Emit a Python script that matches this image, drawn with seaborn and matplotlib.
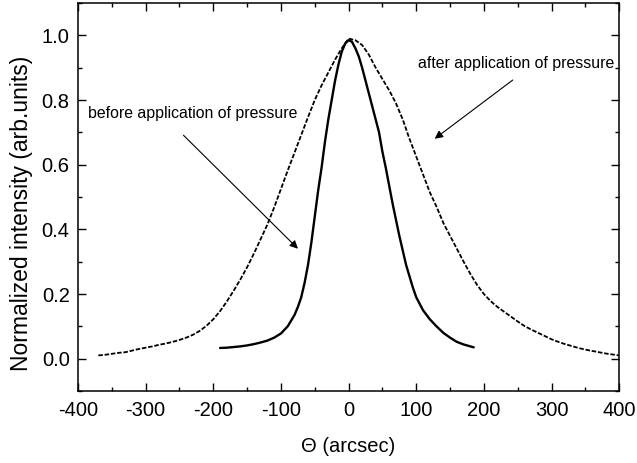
import matplotlib
matplotlib.use("Agg")
import matplotlib.pyplot as plt
import seaborn as sns
import pandas as pd
from matplotlib.ticker import MultipleLocator

# ---- data ----
before_x = [-190, -180, -170, -160, -150, -140, -130, -120, -110, -100, -90, -80, -75, -70, -65,
            -60, -55, -50, -45, -40, -35, -30, -25, -20, -15, -10, -5, 0, 5, 10, 15, 20, 25, 30,
            35, 40, 45, 50, 55, 60, 65, 70, 75, 80, 85, 90, 95, 100, 110, 120, 130, 140, 150,
            160, 170, 180, 185]
before_y = [0.033, 0.034, 0.036, 0.038, 0.041, 0.045, 0.050, 0.056, 0.065, 0.078, 0.100, 0.135,
            0.160, 0.190, 0.235, 0.290, 0.360, 0.440, 0.520, 0.590, 0.670, 0.740, 0.800, 0.860,
            0.910, 0.950, 0.975, 0.985, 0.980, 0.960, 0.935, 0.900, 0.860, 0.820, 0.780, 0.740,
            0.700, 0.640, 0.590, 0.535, 0.480, 0.430, 0.380, 0.335, 0.290, 0.255, 0.220, 0.190,
            0.150, 0.122, 0.100, 0.080, 0.065, 0.052, 0.044, 0.038, 0.035]

after_x = [-370, -360, -350, -340, -330, -320, -310, -300, -290, -280, -270, -260, -250, -240,
           -230, -220, -210, -200, -190, -180, -170, -160, -150, -140, -130, -120, -110, -100,
           -90, -80, -70, -60, -50, -40, -30, -20, -10, 0, 10, 20, 30, 40, 50, 60, 70, 80, 90,
           100, 110, 120, 130, 140, 150, 160, 170, 180, 190, 200, 210, 220, 230, 240, 250, 260,
           270, 280, 290, 300, 310, 320, 330, 340, 350, 360, 370, 380, 390, 400]
after_y = [0.010, 0.012, 0.015, 0.018, 0.020, 0.025, 0.030, 0.034, 0.038, 0.043, 0.047, 0.052,
           0.058, 0.065, 0.074, 0.086, 0.102, 0.122, 0.147, 0.177, 0.210, 0.245, 0.283, 0.325,
           0.370, 0.415, 0.468, 0.525, 0.582, 0.637, 0.692, 0.747, 0.800, 0.845, 0.885, 0.925,
           0.960, 0.990, 0.985, 0.970, 0.940, 0.900, 0.865, 0.830, 0.790, 0.740, 0.680, 0.625,
           0.570, 0.515, 0.470, 0.420, 0.380, 0.340, 0.300, 0.262, 0.228, 0.200, 0.178, 0.160,
           0.145, 0.130, 0.115, 0.101, 0.090, 0.080, 0.070, 0.060, 0.052, 0.045, 0.039, 0.033,
           0.028, 0.024, 0.020, 0.016, 0.013, 0.010]

before_label = "before application of pressure"
after_label = "after application of pressure"

x_ticks = [-400, -300, -200, -100, 0, 100, 200, 300, 400]
y_ticks = [0.0, 0.2, 0.4, 0.6, 0.8, 1.0]

# ---- style ----
sns.set_theme(style="ticks")
plt.rcParams["font.family"] = ["Liberation Sans", "DejaVu Sans"]

fig = plt.figure(figsize=(6.37, 4.63), dpi=100)
ax = fig.add_axes([0.1225, 0.1555, 0.8495, 0.838])

df_before = pd.DataFrame({"x": before_x, "y": before_y})
df_after = pd.DataFrame({"x": after_x, "y": after_y})

sns.lineplot(data=df_after, x="x", y="y", ax=ax, color="black", linewidth=1.3,
             linestyle=(0, (2.5, 1.0)), sort=False)
sns.lineplot(data=df_before, x="x", y="y", ax=ax, color="black", linewidth=1.7,
             sort=False)

ax.set_xlim(-400, 400)
ax.set_ylim(-0.1, 1.1)
ax.set_xticks(x_ticks)
ax.set_yticks(y_ticks)
ax.set_xticklabels([str(v) for v in x_ticks])
ax.set_yticklabels([f"{v:.1f}" for v in y_ticks])
ax.xaxis.set_minor_locator(MultipleLocator(50))
ax.yaxis.set_minor_locator(MultipleLocator(0.1))
ax.tick_params(which="both", direction="in", top=True, right=True, color="black", width=1.0)
ax.tick_params(which="major", length=6, labelsize=14.5, labelcolor="black")
ax.tick_params(which="minor", length=3)
ax.tick_params(axis="x", which="major", pad=7)
ax.tick_params(axis="y", which="major", pad=6)
for s in ax.spines.values():
    s.set_visible(True)
    s.set_color("black")
    s.set_linewidth(1.1)

ax.set_xlabel("Θ (arcsec)", fontsize=14.5, color="black", va="top")
ax.xaxis.set_label_coords(0.5, -0.118)
ax.set_ylabel("Normalized intensity (arb.units)", fontsize=16.5, color="black")
ax.yaxis.set_label_coords(-0.083, 0.459)

ax.annotate("", xy=(-72, 0.334), xytext=(-247, 0.697),
            arrowprops=dict(arrowstyle="-|>", color="black", lw=0.8, mutation_scale=12))
ax.text(-386, 0.758, before_label, fontsize=11.4, color="black", ha="left", va="center")
ax.annotate("", xy=(124, 0.675), xytext=(246, 0.867),
            arrowprops=dict(arrowstyle="-|>", color="black", lw=0.8, mutation_scale=12))
ax.text(102, 0.913, after_label, fontsize=11.4, color="black", ha="left", va="center")

fig.savefig("out.png", dpi=100)
